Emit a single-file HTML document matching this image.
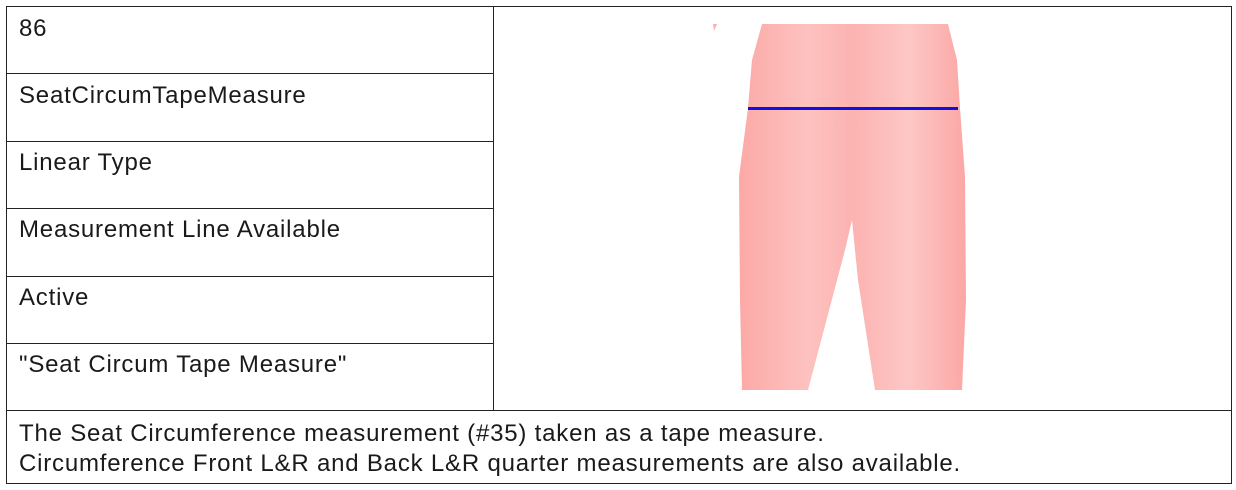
<!DOCTYPE html>
<html><head><meta charset="utf-8"><style>
body{margin:0;background:#fff;width:1236px;height:490px;position:relative;font-family:"Liberation Sans",sans-serif;color:#1a1a1a}
.b{position:absolute;background:#222}
.t{position:absolute;left:19px;font-size:24px;letter-spacing:0.8px;line-height:26px;white-space:nowrap}
</style></head><body>
<div class="b" style="left:6px;top:6px;width:1226px;height:1px"></div>
<div class="b" style="left:6px;top:483px;width:1226px;height:1px"></div>
<div class="b" style="left:6px;top:6px;width:1px;height:478px"></div>
<div class="b" style="left:1231px;top:6px;width:1px;height:478px"></div>
<div class="b" style="left:493px;top:6px;width:1px;height:404px"></div>
<div class="b" style="left:6px;top:73px;width:487px;height:1px"></div>
<div class="b" style="left:6px;top:141px;width:487px;height:1px"></div>
<div class="b" style="left:6px;top:208px;width:487px;height:1px"></div>
<div class="b" style="left:6px;top:276px;width:487px;height:1px"></div>
<div class="b" style="left:6px;top:343px;width:487px;height:1px"></div>
<div class="b" style="left:6px;top:410px;width:1226px;height:1px"></div>
<div class="t" style="top:16px">86</div>
<div class="t" style="top:83px">SeatCircumTapeMeasure</div>
<div class="t" style="top:150px">Linear Type</div>
<div class="t" style="top:217px">Measurement Line Available</div>
<div class="t" style="top:285px">Active</div>
<div class="t" style="top:352px">"Seat Circum Tape Measure"</div>
<div class="t" style="top:419px;line-height:30px">The Seat Circumference measurement (#35) taken as a tape measure.<br>Circumference Front L&amp;R and Back L&amp;R quarter measurements are also available.</div>
<svg style="position:absolute;left:0;top:0" width="1236" height="490">
<defs><linearGradient id="g" x1="0" x2="1"><stop offset="0" stop-color="#fca9a6"/><stop offset="0.3" stop-color="#fdc2c0"/><stop offset="0.5" stop-color="#fcb3b1"/><stop offset="0.75" stop-color="#fdc7c5"/><stop offset="1" stop-color="#fba7a4"/></linearGradient></defs>
<polygon points="762,24 948,24 957,60 960,108 965,177 966,300 962,390 875,390 858,280 852,220 845,250 808,390 742,390 740,300 739,177 748,108 752,60" fill="url(#g)"/>
<polygon points="713,24 717,24 714,31" fill="#fcb0ad"/>
<rect x="748" y="107" width="210" height="3" fill="#1010e0"/>
</svg>
</body></html>
